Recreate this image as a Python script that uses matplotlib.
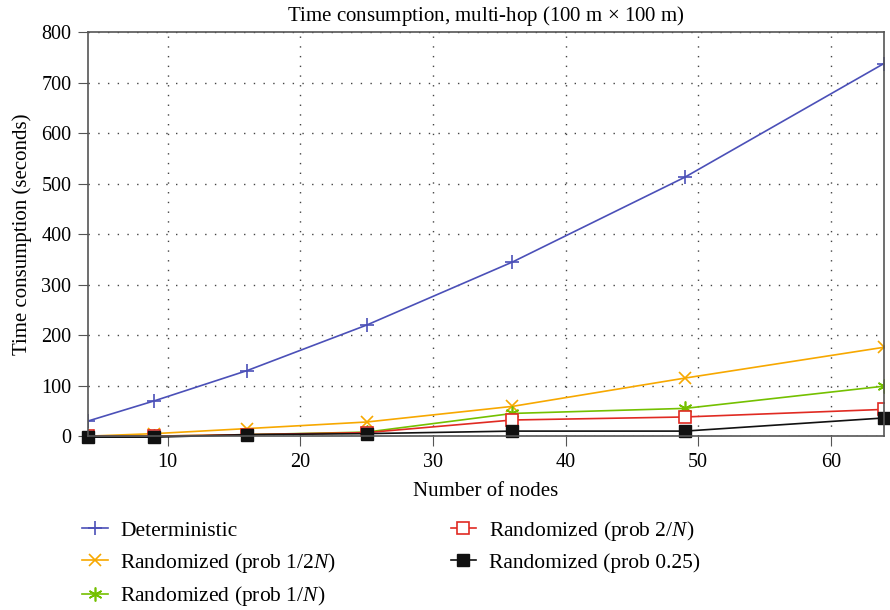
import matplotlib
matplotlib.use('Agg')
import matplotlib.pyplot as plt

plt.rcParams['font.family'] = ['Liberation Serif', 'DejaVu Serif']
plt.rcParams['mathtext.fontset'] = 'custom'
plt.rcParams['mathtext.rm'] = 'Liberation Serif'
plt.rcParams['mathtext.it'] = 'Liberation Serif:italic'

# Messwerte
nodes = [4, 9, 16, 25, 36, 49, 64]
det = [30, 70, 130, 220, 345, 513, 738]
half_n = [0, 5, 15, 28, 59, 115, 176]
one_n = [0, 0, 3, 8, 45, 55, 99]
two_n = [0, 0, 3, 7, 32, 38, 53]
p025 = [-2, -2, 3, 5, 10, 10, 36]

fig = plt.figure(figsize=(8.9, 6.1), dpi=100)
ax = fig.add_axes([0.099, 0.285, 0.894, 0.662])

ax.plot(nodes, det, '-', color='#4b50b8', marker='+', ms=10, mew=1.2, lw=1.2,
        label=r'Deterministic')
ax.plot(nodes, half_n, '-', color='#f7a800', marker='x', ms=8, mew=1.2, lw=1.2,
        label=r'Randomized (prob 1/2$N$)')
ax.plot(nodes, one_n, '-', color='#74c000', marker=(6, 2, 0), ms=10, mew=1.2, lw=1.2,
        label=r'Randomized (prob 1/$N$)')
ax.plot(nodes, two_n, '-', color='#e02a22', marker='s', mfc='white', ms=8, mew=1.2, lw=1.2,
        label=r'Randomized (prob 2/$N$)')
ax.plot(nodes, p025, '-', color='#111111', marker='s', ms=9, lw=1.2, clip_on=False,
        label=r'Randomized (prob 0.25)')

ax.set_xlim(4, 64)
ax.set_ylim(0, 800)
ax.set_xticks([10, 20, 30, 40, 50, 60])
ax.set_yticks(range(0, 801, 100))
ax.tick_params(direction='out', length=7, pad=5, labelsize=14.5, color='#555555')
ax.grid(True, linestyle=(0, (1, 6)), color='#444444', lw=1)
for s in ax.spines.values():
    s.set_color('#555555')
    s.set_linewidth(1.2)

ax.set_title(r'Time consumption, multi-hop (100 m $\times$ 100 m)', fontsize=15, pad=8)
ax.set_xlabel('Number of nodes', fontsize=15, labelpad=7)
ax.set_ylabel('Time consumption (seconds)', fontsize=15, labelpad=7)

# Legende unten
h, l = ax.get_legend_handles_labels()
fig.legend(h, l, loc='upper left', bbox_to_anchor=(0.07, 0.181), ncol=2,
           frameon=False, fontsize=15.5, handlelength=1.2, columnspacing=5.3,
           labelspacing=0.45, handletextpad=0.6)

fig.savefig('out.png', dpi=100)
